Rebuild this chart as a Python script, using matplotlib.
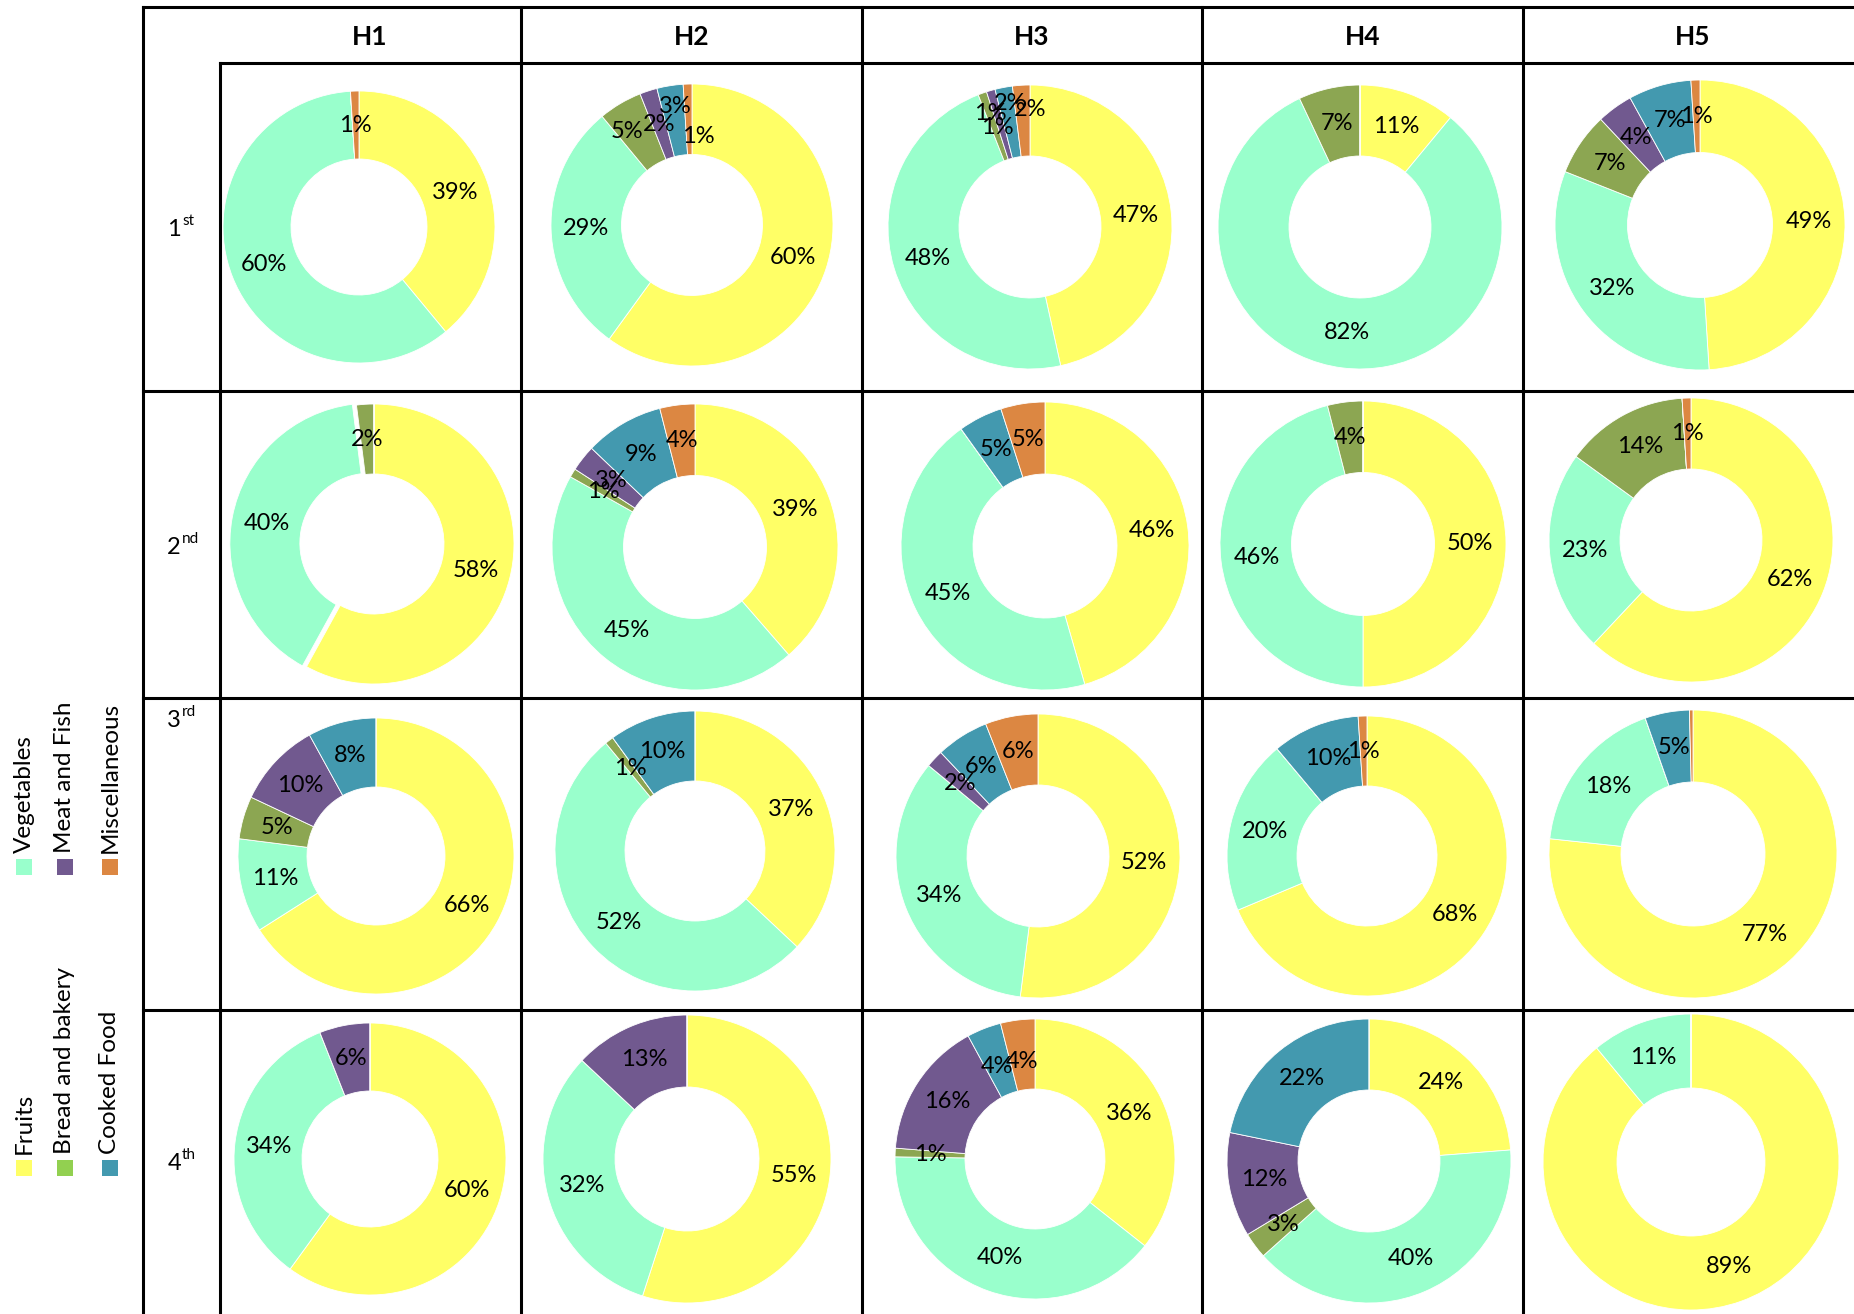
import numpy as np
import matplotlib
matplotlib.use("Agg")
import matplotlib.pyplot as plt
from matplotlib.patches import Rectangle

# ---- data -------------------------------------------------------------
categories = ["Fruits", "Vegetables", "Bread and bakery",
              "Meat and Fish", "Cooked Food", "Miscellaneous"]
houses = ["H1", "H2", "H3", "H4", "H5"]
round_numbers = ["1", "2", "3", "4"]
round_suffixes = ["st", "nd", "rd", "th"]

# share (%) per category, one list per house
round1 = [[39, 60, 0, 0, 0, 1],
          [60, 29, 5, 2, 3, 1],
          [47, 48, 1, 1, 2, 2],
          [11, 82, 7, 0, 0, 0],
          [49, 32, 7, 4, 7, 1]]
round2 = [[58, 40, 2, 0, 0, 0],
          [39, 45, 1, 3, 9, 4],
          [46, 45, 0, 0, 5, 5],
          [50, 46, 4, 0, 0, 0],
          [62, 23, 14, 0, 0, 1]]
round3 = [[66, 11, 5, 10, 8, 0],
          [37, 52, 1, 0, 10, 0],
          [52, 34, 0, 2, 6, 6],
          [68, 20, 0, 0, 10, 1],
          [77, 18, 0, 0, 5, 0.4]]
round4 = [[60, 34, 0, 6, 0, 0],
          [55, 32, 0, 13, 0, 0],
          [36, 40, 1, 16, 4, 4],
          [24, 40, 3, 12, 22, 0],
          [89, 11, 0, 0, 0, 0]]
rounds = [round1, round2, round3, round4]

# ---- styling ----------------------------------------------------------
wedge_colors = ["#FFFF66", "#99FFCC", "#8CA652", "#71598F", "#4399AF", "#DC8742"]
legend_colors = ["#FFFF66", "#99FFCC", "#92D050", "#71598F", "#4399AF", "#DC8742"]
FONT = "Lato"

# small label shifts (radius units) for crowded thin slices
label_nudges = {
    (0, 1, 2): (-0.08, 0.02),
    (0, 1, 4): (0.0, 0.10),
    (0, 1, 5): (0.07, -0.12),
    (0, 2, 2): (-0.03, 0.09),
    (0, 2, 3): (-0.02, -0.02),
    (0, 2, 4): (0.0, 0.13),
    (0, 2, 5): (0.05, 0.08),
    (3, 2, 4): (0.0, -0.04),
    (3, 2, 5): (0.0, -0.05),
}

W, H = 1854, 1314
fig = plt.figure(figsize=(W / 100, H / 100), dpi=100)

# background axes in pixel units for the table grid, headers and legend
bg = fig.add_axes([0, 0, 1, 1])
bg.set_xlim(0, W)
bg.set_ylim(H, 0)
bg.axis("off")

lw = 2.2
col_lines = [143, 220, 521, 862, 1202, 1523]
row_lines = [391, 698, 1010]
bg.plot([143, W], [7, 7], color="black", lw=lw)
bg.plot([220, W], [63, 63], color="black", lw=lw)
for x in col_lines:
    y0 = 63 if x == 220 else 7
    bg.plot([x, x], [y0, H], color="black", lw=lw)
for y in row_lines:
    bg.plot([143, W], [y, y], color="black", lw=lw)

# column headers
header_x = [370, 692, 1032, 1363, 1693]
for hx, name in zip(header_x, houses):
    bg.text(hx, 37, name, ha="center", va="center", fontsize=19,
            fontweight="bold", family=FONT)

# row headers with superscript suffix
digit_baselines = [236, 554, 727, 1170]
for yb, num, suf in zip(digit_baselines, round_numbers, round_suffixes):
    bg.text(181, yb, num, ha="right", va="baseline", fontsize=17, family=FONT)
    bg.text(182, yb - 11, suf, ha="left", va="baseline", fontsize=11, family=FONT)

# legend (rotated, two groups of three)
legend_x = [24, 65, 110]
legend_groups = [(1168, [0, 2, 4]), (867, [1, 3, 5])]
for ys, idxs in legend_groups:
    for lx, i in zip(legend_x, idxs):
        bg.add_patch(Rectangle((lx - 8, ys - 8), 16, 16,
                               facecolor=legend_colors[i], edgecolor="none"))
        bg.text(lx, ys - 14, categories[i], rotation=90, rotation_mode="anchor",
                ha="left", va="center", fontsize=17.5, family=FONT)

# ---- doughnuts --------------------------------------------------------
pie_centers = [
    [(359, 227), (692, 225), (1030, 227), (1360, 227), (1700, 225)],
    [(374, 544), (695, 547), (1045, 546), (1363, 544), (1691, 540)],
    [(376, 856), (695, 851), (1038, 856), (1367, 856), (1693, 854)],
    [(370, 1159), (687, 1159), (1035, 1159), (1369, 1161), (1691, 1162)],
]
pie_radii = [
    [136, 141, 142, 142, 145],
    [140, 143, 144, 143, 142],
    [138, 140, 142, 140, 144],
    [136, 144, 140, 142, 148],
]

for r_i, round_vals in enumerate(rounds):
    for h_i, vals in enumerate(round_vals):
        cx, cy = pie_centers[r_i][h_i]
        rad = pie_radii[r_i][h_i]
        ax = fig.add_axes([(cx - rad) / W, 1 - (cy + rad) / H,
                           2 * rad / W, 2 * rad / H])
        explode = [0.0] * len(vals)
        if r_i == 1 and h_i == 0:
            explode[1] = 0.03
        wedges, _ = ax.pie(vals, colors=wedge_colors, startangle=90,
                           counterclock=False, radius=1, explode=explode,
                           wedgeprops=dict(width=0.5, edgecolor="white",
                                           linewidth=0.6))
        for c_i, (w, v) in enumerate(zip(wedges, vals)):
            if v < 0.5:
                continue
            ang = np.deg2rad((w.theta1 + w.theta2) / 2)
            dx, dy = label_nudges.get((r_i, h_i, c_i), (0.0, 0.0))
            x = w.center[0] + 0.75 * np.cos(ang) + dx
            y = w.center[1] + 0.75 * np.sin(ang) + dy
            ax.text(x, y, f"{v:g}%", ha="center", va="center",
                    fontsize=17, family=FONT, color="black")
        ax.set_xlim(-1.0, 1.0)
        ax.set_ylim(-1.0, 1.0)
        ax.set_aspect("equal")
        ax.axis("off")

fig.savefig("out.png", dpi=100)
